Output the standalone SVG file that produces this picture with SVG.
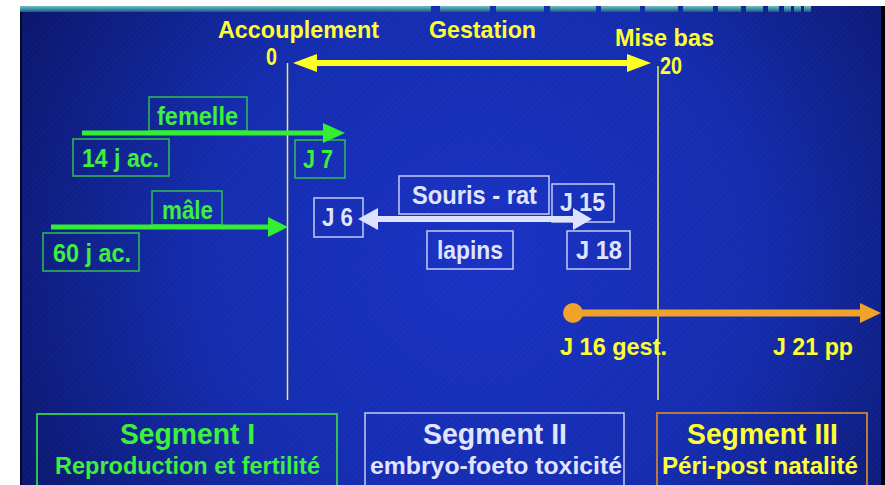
<svg xmlns="http://www.w3.org/2000/svg" width="885" height="485" viewBox="0 0 885 485">
<style>
text{font-family:"Liberation Sans",Arial,sans-serif;font-weight:bold;}
.y{fill:#ffff33;font-size:24px;}
.g{fill:#3cf03c;font-size:25px;}
.l{fill:#e0e4ff;font-size:25px;}
.gb{fill:none;stroke:#2fc04f;stroke-width:1.5;}
.lb{fill:none;stroke:#c4cbf2;stroke-width:1.5;}
.seg{font-size:30px;}
.sub{font-size:24px;}
.vl{stroke:#eeea60;stroke-width:1.5;}
</style>
<defs>
<radialGradient id="bg" cx="480" cy="260" r="560" gradientUnits="userSpaceOnUse">
<stop offset="0" stop-color="#1932c4"/>
<stop offset="0.5" stop-color="#142cae"/>
<stop offset="1" stop-color="#091260"/>
</radialGradient>
<linearGradient id="teal" x1="0" y1="0" x2="0" y2="1">
<stop offset="0" stop-color="#6cc0cc"/>
<stop offset="1" stop-color="#1c5a7a"/>
</linearGradient>
<pattern id="hatch" width="4" height="4" patternUnits="userSpaceOnUse" patternTransform="rotate(45)">
<line x1="0" y1="0" x2="0" y2="4" stroke="#ffffff" stroke-width="1" opacity="0.05"/>
</pattern>
</defs>
<rect x="0" y="0" width="885" height="485" fill="#ffffff"/>
<rect x="20" y="6" width="865" height="479" fill="url(#bg)"/>
<rect x="20" y="6" width="865" height="479" fill="url(#hatch)"/>
<rect x="20" y="6" width="2" height="479" fill="#05082a"/>
<rect x="881" y="6" width="4" height="479" fill="#000000"/>
<g id="topbar" fill="url(#teal)">
<rect x="20" y="6" width="411" height="6"/>
<rect x="440" y="6" width="50" height="6"/>
<rect x="496" y="6" width="48" height="6"/>
<rect x="550" y="6" width="46" height="6"/>
<rect x="601" y="6" width="39" height="6"/>
<rect x="645" y="6" width="33" height="6"/>
<rect x="683" y="6" width="30" height="6"/>
<rect x="718" y="6" width="23" height="6"/>
<rect x="746" y="6" width="17" height="6"/>
<rect x="768" y="6" width="11" height="6"/>
<rect x="784" y="6" width="7" height="6"/>
<rect x="794" y="6" width="7" height="6"/>
<rect x="804" y="6" width="7" height="6"/>
</g>
<g id="timeline-labels">
<text class="y" x="218" y="38" textLength="161" lengthAdjust="spacingAndGlyphs">Accouplement</text>
<text class="y" x="429" y="38" textLength="107" lengthAdjust="spacingAndGlyphs">Gestation</text>
<text class="y" x="615" y="46" textLength="99" lengthAdjust="spacingAndGlyphs">Mise bas</text>
<text class="y" x="266" y="65" textLength="11" lengthAdjust="spacingAndGlyphs">0</text>
<text class="y" x="660" y="74" textLength="22" lengthAdjust="spacingAndGlyphs">20</text>
</g>
<g id="guides">
<line class="vl" x1="287.5" y1="63" x2="287.5" y2="400"/>
<line class="vl" x1="658" y1="66" x2="658" y2="400"/>
</g>
<g id="femelle">
<rect class="gb" x="149" y="97" width="98" height="34"/>
<text class="g" x="157" y="125" textLength="81" lengthAdjust="spacingAndGlyphs">femelle</text>
</g>
<g id="j14ac">
<rect class="gb" x="73" y="139" width="96" height="37"/>
<text class="g" x="82" y="167" textLength="77" lengthAdjust="spacingAndGlyphs">14 j ac.</text>
</g>
<g id="j7">
<rect class="gb" x="295" y="140" width="50" height="38"/>
<text class="g" x="303" y="168" textLength="30" lengthAdjust="spacingAndGlyphs">J 7</text>
</g>
<g id="male">
<rect class="gb" x="152" y="191" width="70" height="34"/>
<text class="g" x="162" y="219" textLength="51" lengthAdjust="spacingAndGlyphs">mâle</text>
</g>
<g id="j60ac">
<rect class="gb" x="43" y="233" width="96" height="38"/>
<text class="g" x="53" y="262" textLength="78" lengthAdjust="spacingAndGlyphs">60 j ac.</text>
</g>
<g id="j6">
<rect class="lb" x="314" y="198" width="49" height="39"/>
<text class="l" x="322" y="226" textLength="31" lengthAdjust="spacingAndGlyphs">J 6</text>
</g>
<g id="souris-rat">
<rect class="lb" x="399" y="176" width="150" height="38"/>
<text class="l" x="412" y="204" textLength="125" lengthAdjust="spacingAndGlyphs">Souris - rat</text>
</g>
<g id="j15">
<rect class="lb" x="552" y="184" width="62" height="38"/>
<text class="l" x="560" y="211" textLength="45" lengthAdjust="spacingAndGlyphs">J 15</text>
</g>
<g id="lapins">
<rect class="lb" x="427" y="231" width="86" height="38"/>
<text class="l" x="437" y="259" textLength="66" lengthAdjust="spacingAndGlyphs">lapins</text>
</g>
<g id="j18">
<rect class="lb" x="567" y="231" width="63" height="38"/>
<text class="l" x="576" y="259" textLength="46" lengthAdjust="spacingAndGlyphs">J 18</text>
</g>
<g id="j16gest">
<text class="y" x="560" y="355" textLength="107" lengthAdjust="spacingAndGlyphs">J 16 gest.</text>
</g>
<g id="j21pp">
<text class="y" x="773" y="355" textLength="80" lengthAdjust="spacingAndGlyphs">J 21 pp</text>
</g>
<g id="connectors">
<g fill="#ffff22">
<rect x="314" y="60" width="316" height="6"/>
<polygon points="293,63 317,54 317,72"/>
<polygon points="651,63 627,54 627,72"/>
</g>
<g fill="#33ee33">
<rect x="82" y="130.5" width="243" height="5"/>
<polygon points="345,133 323,123 323,143"/>
<rect x="51" y="224.5" width="219" height="5"/>
<polygon points="288,227 268,217 268,237"/>
</g>
<g fill="#dde2ff">
<rect x="376" y="216" width="199" height="6"/>
<polygon points="358,219 378,208 378,230"/>
<polygon points="592,219 573,208 573,230"/>
</g>
<g fill="#f0a22a">
<circle cx="573" cy="313" r="10"/>
<rect x="573" y="309.5" width="289" height="7"/>
<polygon points="881,313 860,303 860,323"/>
</g>
</g>
<g id="segment1">
<rect x="37" y="414" width="300" height="80" fill="none" stroke="#2fc04f" stroke-width="2"/>
<text class="seg" x="120" y="444" fill="#3cf03c" textLength="135" lengthAdjust="spacingAndGlyphs">Segment I</text>
<text class="sub" x="55" y="474" fill="#3cf03c" textLength="265" lengthAdjust="spacingAndGlyphs">Reproduction et fertilité</text>
</g>
<g id="segment2">
<rect x="365" y="413" width="259" height="80" fill="none" stroke="#c4cbf2" stroke-width="1.5"/>
<text class="seg" x="423" y="444" fill="#e0e4ff" textLength="144" lengthAdjust="spacingAndGlyphs">Segment II</text>
<text class="sub" x="370" y="474" fill="#e0e4ff" textLength="252" lengthAdjust="spacingAndGlyphs">embryo-foeto toxicité</text>
</g>
<g id="segment3">
<rect x="657" y="413" width="210" height="80" fill="none" stroke="#b87a3a" stroke-width="2"/>
<text class="seg" x="687" y="444" fill="#ffff33" textLength="151" lengthAdjust="spacingAndGlyphs">Segment III</text>
<text class="sub" x="662" y="474" fill="#ffff33" textLength="196" lengthAdjust="spacingAndGlyphs">Péri-post natalité</text>
</g>
</svg>
